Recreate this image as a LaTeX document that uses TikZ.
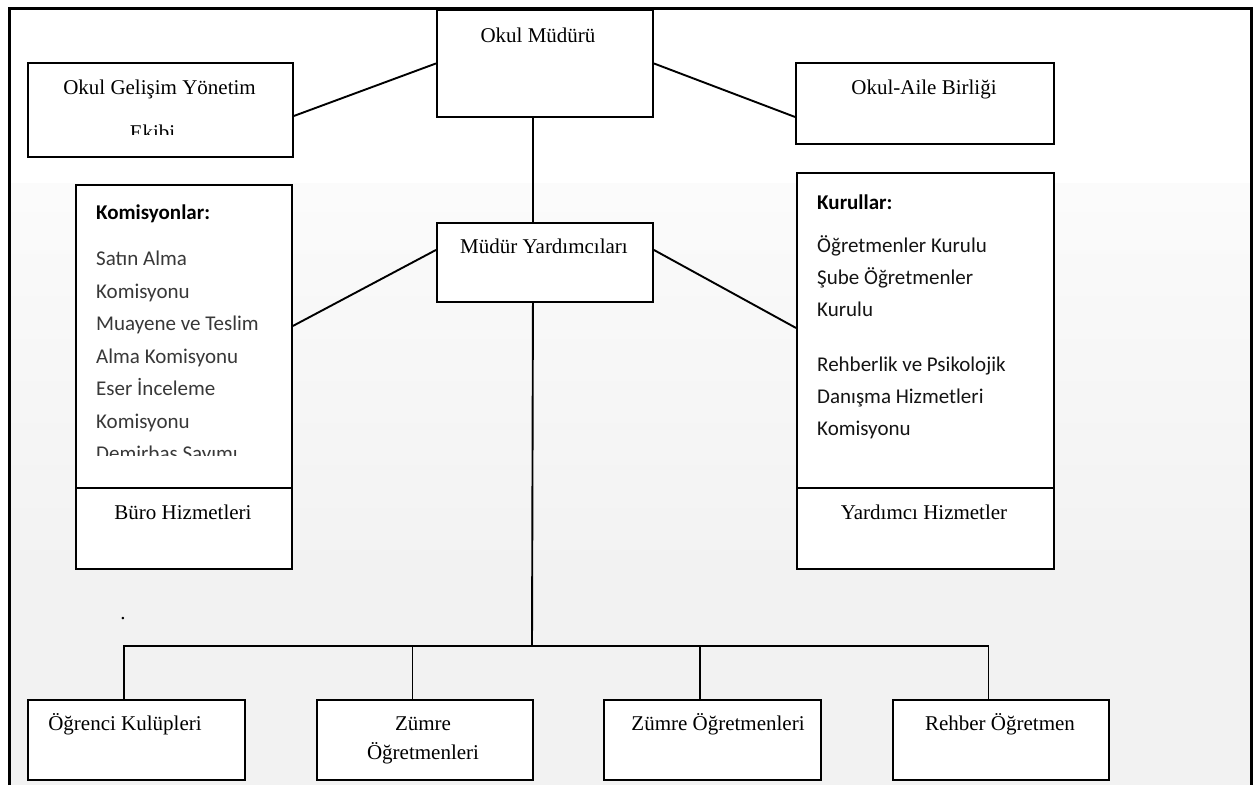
\documentclass[tikz,border=0pt]{standalone}
\usepackage{fontspec}
\setmainfont{Liberation Serif}
\newfontfamily\carlito{Carlito}
\begin{document}
\begin{tikzpicture}[x=1pt,y=-1pt,
  box/.style={draw,fill=white,line width=1.9pt,anchor=north west,inner sep=0pt},
  lbl/.style={anchor=base,inner sep=0pt,font=\fontsize{21}{25}\selectfont},
  lst/.style={anchor=base west,inner sep=0pt,font=\carlito\fontsize{21}{25}\selectfont,text=black!78},
  lstk/.style={lst,text=black!92},
  hd/.style={anchor=base west,inner sep=0pt,font=\carlito\bfseries\fontsize{21}{25}\selectfont},
  conn/.style={line width=1.9pt}]
\useasboundingbox (0,0) rectangle (1255,785);
% background
\fill[white] (9,8) rectangle (1252,785);
\shade[top color=black!1.5,bottom color=black!5] (9,183) rectangle (1252,560);
\fill[black!5] (9,560) rectangle (1252,785);
% frame
\draw[line width=2.2pt] (9.5,785) -- (9.5,8.5) -- (1251.5,8.5) -- (1251.5,785);
% boxes
\node[box,minimum width=216pt,minimum height=107pt] (om) at (436,9) {};
\node[box,minimum width=265pt,minimum height=94pt] (ogye) at (27,62) {};
\node[box,minimum width=258pt,minimum height=81pt] (oab) at (795,62) {};
\node[box,minimum width=216pt,minimum height=79pt] (my) at (436,222) {};
\node[box,minimum width=216pt,minimum height=303pt] (kom) at (75,184) {};
\node[box,minimum width=216pt,minimum height=81pt] (buro) at (75,487) {};
\node[box,minimum width=257pt,minimum height=315pt] (kur) at (796,172) {};
\node[box,minimum width=257pt,minimum height=81pt] (yh) at (796,487) {};
\node[box,minimum width=217pt,minimum height=80pt] (ok) at (27,699) {};
\node[box,minimum width=216pt,minimum height=80pt] (zr) at (316,699) {};
\node[box,minimum width=217pt,minimum height=80pt] (zo) at (603,699) {};
\node[box,minimum width=216pt,minimum height=80pt] (rh) at (892,699) {};
% connectors
\draw[conn] (om.west) -- ([yshift=-6pt]ogye.east);
\draw[conn] (om.east) -- ([yshift=-13.5pt]oab.west);
\draw[conn] ([xshift=-12pt]om.south) -- ([xshift=-12pt]my.north);
\draw[conn] ([yshift=12.5pt]my.west) -- ([yshift=10.5pt]kom.east);
\draw[conn] ([yshift=12.5pt]my.east) -- ([yshift=2.5pt]kur.west);
\coordinate (bus) at (532,646);
\draw[conn] ([xshift=-12pt]my.south) -- (bus);
\draw[conn] ([xshift=-12.5pt]ok.north) |- ([xshift=-12.5pt]rh.north |- bus) -- ([xshift=-12.5pt]rh.north);
\draw[conn] ([xshift=-12.5pt]zr.north) -- ([xshift=-12.5pt]zr.north |- bus);
\draw[conn] ([xshift=-12.5pt]zo.north) -- ([xshift=-12.5pt]zo.north |- bus);
% texts
\node[lbl] (tom) at (538,42) {Okul Müdürü};
\node[lbl] (togye) at (159.5,94) {Okul Gelişim Yönetim};
\begin{scope}
  \clip (27,62) rectangle (292,134);
  \node[lbl] (togye2) at (152.5,139) {Ekibi};
\end{scope}
\node[lbl] (toab) at (924,94) {Okul-Aile Birliği};
\node[lbl] (tmy) at (544,253) {Müdür Yardımcıları};
\node[hd] (tkom) at (96,219) {Komisyonlar:};
\node[lst] (k1) at (96,265.5) {Satın Alma};
\node[lst] (k2) at (96,298) {Komisyonu};
\node[lst] (k3) at (96,330.5) {Muayene ve Teslim};
\node[lst] (k4) at (96,363) {Alma Komisyonu};
\node[lst] (k5) at (96,395.5) {Eser İnceleme};
\node[lst] (k6) at (96,428) {Komisyonu};
\begin{scope}
  \clip (75,184) rectangle (291,455);
  \node[lst] (k7) at (96,460.5) {Demirbaş Sayımı};
\end{scope}
\node[lbl] (tburo) at (183,519) {Büro Hizmetleri};
\node[hd] (tkur) at (817,209) {Kurullar:};
\node[lstk] (r1) at (817,252.5) {Öğretmenler Kurulu};
\node[lstk] (r2) at (817,284.5) {Şube Öğretmenler};
\node[lstk] (r3) at (817,316.5) {Kurulu};
\node[lstk] (r4) at (817,371.5) {Rehberlik ve Psikolojik};
\node[lstk] (r5) at (817,403.5) {Danışma Hizmetleri};
\node[lstk] (r6) at (817,435.5) {Komisyonu};
\node[lbl] (tyh) at (924,519) {Yardımcı Hizmetler};
\node[lbl] (dot) at (123,619) {.};
\node[lbl] (tok) at (125,730) {Öğrenci Kulüpleri};
\node[lbl] (tzr1) at (423,730) {Zümre};
\node[lbl] (tzr2) at (423,759) {Öğretmenleri};
\node[lbl] (tzo) at (718,730) {Zümre Öğretmenleri};
\node[lbl] (trh) at (1000,730) {Rehber Öğretmen};
\end{tikzpicture}
\end{document}
